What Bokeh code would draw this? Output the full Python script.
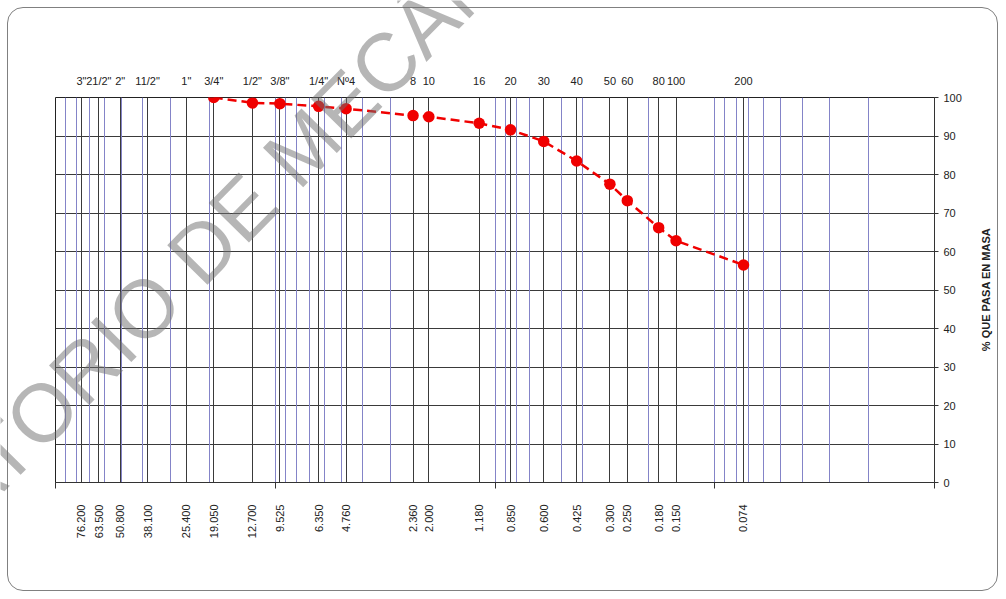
import math

from bokeh.embed import file_html
from bokeh.models import (FixedTicker, Grid, InlineStyleSheet, Label, LogAxis,
                          NumeralTickFormatter, Range1d)
from bokeh.plotting import figure
from bokeh.resources import INLINE

# Sieve series (ASTM): designation and opening in mm
sieve_names = ['3"', '21/2"', '2"', '11/2"', '1"', '3/4"', '1/2"', '3/8"', '1/4"', 'Nº4',
               '8', '10', '16', '20', '30', '40', '50', '60', '80', '100', '200']
openings_mm = [76.2, 63.5, 50.8, 38.1, 25.4, 19.05, 12.7, 9.525, 6.35, 4.76,
               2.36, 2.0, 1.18, 0.85, 0.6, 0.425, 0.3, 0.25, 0.18, 0.15, 0.074]

# Sample result: cumulative percentage passing each sieve from 3/4" down
sample_openings = [19.05, 12.7, 9.525, 6.35, 4.76, 2.36, 2.0, 1.18, 0.85,
                   0.6, 0.425, 0.3, 0.25, 0.18, 0.15, 0.074]
percent_passing = [100.0, 98.6, 98.4, 97.7, 97.1, 95.3, 95.0, 93.3, 91.6,
                   88.6, 83.5, 77.5, 73.2, 66.2, 62.8, 56.5]

percent_ticks = [0, 10, 20, 30, 40, 50, 60, 70, 80, 90, 100]
decade_ticks = [100, 10, 1, 0.1, 0.01]
log_paper_lines = [k * d for d in [10, 1, 0.1, 0.01] for k in range(1, 10)] + [100]

FONT = "Liberation Sans"
GRID_DARK = "#3a3a3a"
GRID_BLUE = "#8484c8"
RED = "#f00000"
W, H = 1006, 599

p = figure(width=W, height=H, x_axis_type="log",
           x_range=Range1d(100, 0.01), y_range=Range1d(0, 100),
           x_axis_location="below", y_axis_location="right",
           output_backend="svg", toolbar_location=None,
           min_border_left=55, min_border_right=72,
           min_border_top=97, min_border_bottom=117)
p.background_fill_color = "white"
p.border_fill_color = "white"
p.outline_line_color = "#222222"
p.outline_line_width = 1

# Bottom axis: sieve openings in mm, decade marks as small ticks
xa = p.xaxis[0]
xa.ticker = FixedTicker(ticks=openings_mm, minor_ticks=decade_ticks)
xa.formatter = NumeralTickFormatter(format="0.000")
xa.major_label_orientation = math.pi / 2
xa.major_tick_out = 0
xa.major_tick_in = 0
xa.minor_tick_out = 6
xa.minor_tick_in = 0
xa.minor_tick_line_color = "#333333"
xa.axis_line_color = "#333333"
xa.major_label_standoff = 16
xa.major_label_text_font = FONT
xa.major_label_text_font_size = "11px"
xa.major_label_text_color = "#222222"

# Top axis: sieve designations
top = LogAxis(ticker=FixedTicker(ticks=openings_mm, minor_ticks=[]),
              major_label_overrides={o: n for o, n in zip(openings_mm, sieve_names)})
top.axis_line_color = None
top.major_tick_line_color = None
top.minor_tick_line_color = None
top.major_label_standoff = 5
top.major_label_text_font = FONT
top.major_label_text_font_size = "11px"
top.major_label_text_color = "#222222"
p.add_layout(top, "above")

# Right axis: percent passing
ya = p.yaxis[0]
ya.ticker = FixedTicker(ticks=percent_ticks, minor_ticks=[])
ya.major_tick_out = 4
ya.major_tick_in = 0
ya.major_tick_line_color = "#333333"
ya.axis_line_color = "#333333"
ya.major_label_standoff = 5
ya.major_label_text_font = FONT
ya.major_label_text_font_size = "11px"
ya.major_label_text_color = "#222222"

# Grid: log paper in blue, sieve openings and percentages in dark grey
p.xgrid.grid_line_color = None
p.add_layout(Grid(dimension=0, ticker=FixedTicker(ticks=log_paper_lines),
                  grid_line_color=GRID_BLUE, grid_line_width=1))
p.add_layout(Grid(dimension=0, ticker=FixedTicker(ticks=openings_mm),
                  grid_line_color=GRID_DARK, grid_line_width=1))
p.ygrid.ticker = FixedTicker(ticks=percent_ticks)
p.ygrid.grid_line_color = GRID_DARK
p.ygrid.grid_line_width = 1

# Grading curve
p.line(sample_openings, percent_passing, line_color=RED, line_width=2.5,
       line_dash="9 5")
p.scatter(sample_openings, percent_passing, size=11.5, fill_color=RED,
          line_color=None)

# Rounded frame around the whole chart
p.stylesheets = [InlineStyleSheet(css="""
:host { position: relative; }
:host::after {
  content: ''; position: absolute; left: 7px; top: 7px;
  width: 991px; height: 584px; box-sizing: border-box;
  border: 1.5px solid #808080; border-radius: 16px; pointer-events: none;
}
""")]

# Transparent full-page layer: right-hand axis title and diagonal watermark
wm = figure(width=W, height=H, x_range=Range1d(0, 1), y_range=Range1d(0, 1),
            x_axis_location=None, y_axis_location=None,
            output_backend="svg", toolbar_location=None,
            min_border_left=0, min_border_right=0,
            min_border_top=0, min_border_bottom=0)
wm.outline_line_color = None
wm.background_fill_color = None
wm.border_fill_color = None
wm.grid.visible = False
wm.styles = {"position": "absolute", "left": "0px", "top": "0px",
             "pointer-events": "none"}

wm.add_layout(Label(x=985, y=H - 289, x_units="screen", y_units="screen",
                    text="% QUE PASA EN MASA", angle=90, angle_units="deg",
                    text_align="center", text_baseline="middle",
                    text_font=FONT, text_font_style="bold",
                    text_font_size="11px", text_color="#222222"))

wm_style = dict(x_units="screen", y_units="screen", angle=45.5, angle_units="deg",
                text_font="Liberation Sans", text_font_size="82px",
                text_color="#6e6e6e", text_alpha=0.5, text_baseline="alphabetic")
wm.add_layout(Label(x=182, y=H - 269, text="DE MECÁNICA DE SUELOS",
                    text_align="left", **wm_style))
wm.add_layout(Label(x=166, y=H - 285.3, text="LABORATORIO",
                    text_align="right", **wm_style))

open("out.html", "w").write(file_html([p, wm], INLINE))
